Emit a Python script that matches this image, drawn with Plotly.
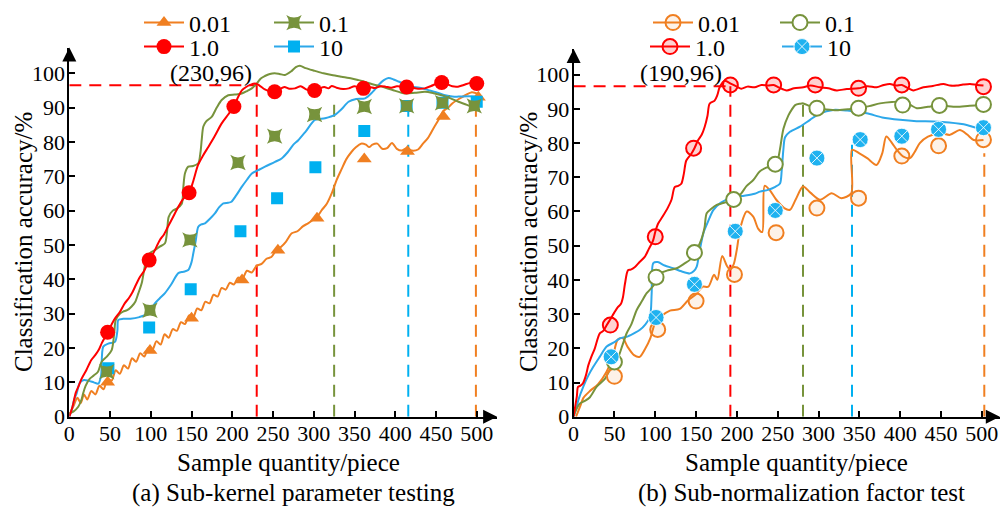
import plotly.graph_objects as go

# ---------------- colours ----------------
C_OR = "#F07F21"
C_RD = "#FF0000"
C_GR = "#77933C"
C_BLm = "#00B0F0"
C_BLl = "#2DA8EA"
FONT = "Liberation Serif"

# ---------------- (a) Sub-kernel parameter testing ----------------
# curves
a_or_x = [0, 5, 10, 14, 18, 22, 27, 32, 37, 42, 47, 52, 57, 62, 67, 72, 77, 82, 87, 92, 97, 102, 107, 112, 117, 122,
          127, 132, 137, 142, 147, 152, 157, 162, 167, 172, 177, 182, 187, 192, 197, 202, 207, 212, 218, 224, 230, 236,
          242, 248, 254, 260, 266, 273, 280, 287, 293, 300, 305, 310, 316, 322, 328, 334, 340, 346, 352, 358, 364, 368,
          372, 378, 384, 390, 396, 402, 408, 414, 420, 428, 434, 440, 447, 453, 459, 465, 470, 478, 486, 494, 502]
a_or_y = [0.5, 3, 5.5, 4, 6.5, 5, 7.5, 6.5, 9, 8, 11, 10.5, 13.5, 12.5, 15, 14, 17, 16, 18.5, 17.5, 20, 19.5, 22, 21,
          24, 23, 25.5, 25, 27.5, 27, 29.5, 29, 31.5, 31, 33.5, 33, 35.5, 35, 37.5, 37, 39, 38.5, 40.5, 40, 42.5, 42,
          44, 44.5, 46, 46.5, 48.5, 49.5, 51, 53.4, 54, 55.5, 56.3, 57.5, 58.5, 60.2, 62, 65, 68.9, 72, 75, 77, 78.5,
          79.5, 79.2, 78.5, 79.2, 79.5, 78, 78.2, 79.7, 78, 77.5, 78.2, 77.5, 77.8, 79.5, 81.1, 84, 86.4, 89, 90,
          91.2, 92.5, 93.6, 94.5, 94]

a_rd_x = [0, 4, 8, 11, 15, 21, 27, 32, 36, 40, 44, 50, 56, 62, 68, 73, 77, 82, 87, 92, 97, 104, 111, 116, 121, 127,
          134, 140, 147, 152, 158, 164, 171, 178, 187, 195, 202, 207, 212, 217, 222, 228, 233, 240, 246, 252, 258,
          264, 270, 277, 284, 290, 296, 301, 307, 313, 318, 322, 328, 336, 343, 350, 356, 361, 368, 375, 382, 388,
          395, 402, 408, 414, 420, 428, 436, 444, 451, 457, 464, 470, 477, 484, 492, 500]
a_rd_y = [0, 3, 7, 8.7, 11, 13.6, 16.5, 18, 19.4, 21.5, 23.3, 26, 28.6, 30.5, 33, 34.5, 36, 38.5, 40.8, 42.5, 45.1,
          48, 51.4, 53, 55.3, 58, 61.2, 63.5, 65.2, 68.5, 73.3, 76, 78.7, 81.5, 85.4, 88, 90.3, 93, 95.1, 96, 96.6,
          97, 96.5, 95.3, 94.8, 94.6, 95.4, 96, 95.5, 95.6, 96.2, 95.4, 94.9, 95, 95.6, 96, 95.6, 96.3, 95.8, 95.4,
          95.6, 96.2, 95.8, 95.6, 96, 95.7, 96.2, 96.1, 95.8, 96.2, 96.1, 96, 95.8, 95.5, 95.6, 96.3, 97, 97.3, 96.8,
          96.2, 96.1, 96.6, 97.2, 97]

a_gr_x = [0, 5, 11, 15, 17, 20, 25, 30, 35, 39.7, 46, 52, 55, 57, 62, 66, 71, 76.5, 81, 84.7, 89, 92.9, 97, 101, 105,
          111, 117.4, 120, 122, 127, 132, 138, 140, 142, 146, 152, 158.3, 161, 162.5, 164.5, 168, 174.7, 181, 187,
          195, 203, 211.6, 218, 224, 230, 235, 240, 246, 252, 258, 264.7, 272, 278, 283, 290, 301.5, 312, 322, 334,
          346.5, 355, 363, 372, 383.6, 396, 412, 424, 436.5, 447, 457, 468, 477.5, 488, 497]
a_gr_y = [1, 1.5, 2.9, 5, 6.8, 9, 11, 12, 13, 16, 17.5, 19.4, 24, 28.2, 30, 30.6, 31, 32.1, 33.5, 35.9, 39, 44, 47, 48,
          48.5, 49.5, 50.5, 54, 58.2, 60, 60.6, 62, 67, 70.9, 72.8, 73, 73.8, 77, 80.6, 84.5, 86, 87.3, 90, 92.2,
          93.6, 93.8, 94.1, 94.8, 95.6, 97, 98.5, 99.2, 99.8, 100, 99.8, 99.5, 100.5, 101.8, 102.2, 101.5, 100.7,
          100, 99.5, 99, 98.5, 98, 97.5, 96.8, 96.1, 95.2, 94.1, 94.3, 94.6, 94.2, 93.6, 92.7, 91.7, 90.8, 89.8]

a_bl_x = [0, 3, 6, 9, 13, 18, 23.3, 30, 35.6, 39, 41.7, 47.9, 56, 59, 60.2, 66, 75, 86, 97, 105, 111, 117.4, 125,
          133.8, 140, 146, 150, 152.2, 155, 158.3, 162, 166.5, 172, 178.7, 184, 189, 195, 199, 205, 211.6, 218, 224,
          232, 240.2, 252.4, 260.6, 268, 275, 281, 290, 301.5, 313.8, 326, 334, 342.7, 352, 363, 372, 379.5, 386,
          391.8, 398, 404, 412, 420.4, 430, 440.8, 450, 461.2, 470, 477.5, 490, 502]
a_bl_y = [0, 2, 5, 6.8, 9.9, 10.7, 10.5, 10, 9.6, 12, 20.4, 21.3, 21.8, 25, 28.2, 28.5, 28.5, 29, 30.1, 33, 34.5, 36,
          38.5, 41.8, 42.2, 42.7, 45, 47.6, 51, 55.3, 56, 56.3, 57.5, 59.2, 61, 62.1, 62.3, 62.6, 64.5, 66.9, 69,
          70.8, 71.8, 72.8, 74.2, 75.2, 77, 79.2, 80.5, 83, 86.4, 86.9, 87.9, 89.5, 91.7, 92.5, 92.7, 94.5, 96.6, 98,
          98.6, 98.2, 97.6, 96.8, 96.1, 95.8, 95.1, 94.5, 93.6, 93.2, 93.2, 93.3, 93.2]

# markers
a_or_mx = [47, 99, 150, 212, 256, 304, 362, 415, 459, 502]
a_or_my = [10, 19.3, 28.7, 39.8, 48.5, 57.8, 75, 77.2, 87.4, 93]
a_rd_mx = [47, 98, 147, 202, 252, 301, 361, 414, 457, 500]
a_rd_my = [24.6, 45.6, 65.2, 90.3, 94.6, 95, 95.6, 96, 97.3, 97]
a_gr_mx = [46, 99, 148, 207, 252, 301, 362, 414, 458, 497]
a_gr_my = [13.1, 31, 51.5, 74, 81.7, 88, 90.3, 90.5, 91.4, 90.5]
a_bl_mx = [48, 98, 149, 210, 255, 302, 362, 414, 458, 500]
a_bl_my = [14.1, 26, 37.1, 54, 63.6, 72.6, 83.2, 90.5, 91.4, 91.7]

a_vline_x = [230, 325, 416, 499]
a_vline_top = [96.5, 91.3, 91.3, 91.5]
a_hline_y = 96.5
a_label = "(230,96)"

# ---------------- (b) Sub-normalization factor test ----------------
b_or_x = [3, 8, 12, 20, 30, 40, 48, 54, 60, 66, 74, 81, 88, 94, 100, 108, 118, 130, 140, 150, 158, 165, 172, 176, 182,
          188, 192, 196, 200, 204, 212, 220, 226, 231, 234, 240, 248, 258, 265, 272, 281, 290, 302, 316, 328, 340, 341,
          350, 360, 371, 378, 383, 390, 396, 404, 412, 418, 424, 434, 449, 461, 473, 482, 490, 502]
b_or_y = [0, 3, 5.5, 7.5, 9.5, 13, 17.5, 22.5, 23, 20.5, 18, 17.5, 20, 23, 27.5, 29.5, 31, 31.5, 34, 35.8, 38, 38,
          41.5, 40, 47, 44, 43, 44.5, 49, 55, 60, 58.5, 55, 54, 67.5, 66.3, 63.5, 61, 60.5, 63.5, 67.3, 65.5, 63.4,
          65.3, 63.9, 65.3, 78, 77, 75.5, 73.6, 77, 81.9, 80, 78, 76, 75.6, 77.5, 80, 81.9, 82.9, 82.4, 83.8, 82.5,
          80.9, 80.9]

b_rd_x = [0, 1.3, 4, 5.4, 8, 11.5, 15, 18, 21.7, 26, 31.9, 36, 40.1, 45, 50, 54.4, 58, 60.5, 63, 66.6, 70, 74.8, 80,
          87.1, 92, 97.3, 100, 103.4, 109, 115.6, 120, 123.8, 128, 131.9, 135, 138, 144.2, 148, 152.4, 157, 160.5,
          164, 166.6, 172.7, 176, 178.9, 185, 193.1, 200, 205.4, 213, 221.8, 230, 238.1, 245, 252, 261, 270, 281.4,
          290, 301.9, 312, 322.3, 334.6, 348.8, 360, 371.2, 380, 387.5, 395, 402, 410, 416.1, 428.4, 440, 452.9, 461,
          469.2, 477, 485.5, 494, 502]
b_rd_y = [0, 2, 6, 8.7, 9, 9.8, 12, 15, 17.5, 20, 24.3, 25, 26.6, 28.5, 30.5, 32.1, 33, 35, 39, 42.8, 43, 43.7, 45,
          46.7, 49, 51.5, 54, 56.4, 58.5, 61.2, 63.5, 67.1, 67.5, 68.1, 71, 74.9, 76.9, 78.5, 80.8, 82.5, 84.7, 88,
          91.5, 92.4, 94, 96.3, 98.2, 97.3, 96.5, 95.9, 96.5, 96.3, 97, 96.8, 97, 96.2, 95.4, 96, 96.3, 96.8, 96.3,
          96, 95.4, 95.8, 96, 96.6, 96.3, 97, 97.3, 96.8, 97, 96, 95.4, 96.3, 96.7, 97.3, 96.8, 96.8, 97.1, 97.3, 97,
          96.8]

b_gr_x = [0, 3, 7.8, 13.6, 20, 28.3, 38.1, 44.6, 50.3, 55, 60, 65, 70.7, 77.3, 83, 89.5, 95, 99.7, 103, 105.8, 115.6,
          126.3, 136, 143, 148.3, 154.4, 158, 160.5, 163, 168.7, 175.3, 181, 188, 196, 205.4, 212, 220.1, 227.9, 236,
          246.7, 250, 252.9, 257, 263.1, 267, 271.3, 277.3, 281.4, 289, 297.8, 310, 322.3, 336, 348.8, 362, 375.3,
          390, 403, 412, 420.3, 434, 448, 458, 469.2, 485, 502]
b_gr_y = [0.3, 2, 3.9, 4.6, 5.7, 8.8, 11, 13.7, 15, 17.5, 21, 24.4, 27, 31.2, 33.5, 36.1, 37.5, 39, 41, 41.9, 42.8,
          43.4, 44.8, 46, 47.7, 50.6, 53, 55.5, 59.5, 60.8, 61.9, 62.3, 62.8, 63.2, 65.3, 67.5, 69.2, 71.7, 72.8,
          73.6, 75, 78.4, 84.2, 88.1, 89.7, 91.1, 91.5, 91.6, 90.8, 90.2, 89.8, 89.6, 89.9, 90.2, 90.8, 91.6, 92,
          92.1, 91.2, 90.2, 90.6, 91.1, 90.8, 90.6, 90.9, 91.1]

b_bl_x = [0, 2.2, 6, 11.9, 18, 24.1, 32, 40.5, 50, 56.8, 66.6, 75, 81.3, 88, 93.6, 95.6, 97.6, 103, 111.6, 122, 132,
          142.6, 147, 150.8, 154, 158.9, 164.6, 171.1, 180, 191.6, 205.4, 221.8, 228.3, 238.1, 247, 252.8, 254.9,
          256.9, 259, 265, 277.3, 289.6, 301.8, 318.1, 335, 359, 378, 399.8, 420, 440.6, 460, 481.5, 492, 501.8]
b_bl_y = [0, 1.5, 5, 8.8, 12, 14.6, 17.5, 20.5, 21.8, 22.9, 23.5, 24.5, 25.4, 27, 29.2, 36, 44.9, 45.2, 44.2, 43.4,
          42.5, 41.9, 42.5, 43.9, 48, 53.6, 57, 60.4, 62.5, 63.9, 64.5, 65.2, 65.8, 66.3, 67.2, 68.2, 72, 78, 81.7,
          83.3, 84.8, 86.8, 88.7, 89.7, 89.5, 88.7, 87.5, 86.8, 86.4, 86.3, 86, 85.3, 84.5, 83.8]

b_or_mx = [50, 103, 150, 197, 248, 298, 349, 402, 447, 502]
b_or_my = [11.8, 25.5, 33.8, 41.6, 53.8, 61, 63.9, 76.2, 79.2, 81]
b_rd_mx = [45, 100, 147, 192, 245, 296, 349, 402, 502]
b_rd_my = [26.8, 52.6, 78.5, 97, 97, 97, 96, 97, 96.5]
b_gr_mx = [50, 101, 148, 196, 247, 298, 349, 403, 448, 502]
b_gr_my = [16, 40.8, 48, 63.5, 73.8, 90.2, 90.2, 91.1, 91, 91.3]
b_bl_mx = [46, 101, 148, 198, 247, 298, 351, 402, 447, 502]
b_bl_my = [17.5, 29, 38.7, 54.2, 60.3, 75.6, 81, 82, 84, 84.5]

b_vline_x = [192, 281, 341, 503]
b_vline_top = [96.6, 91.2, 80.5, 77]
b_hline_y = 96.6
b_label = "(190,96)"

series_names = ["0.01", "0.1", "1.0", "10"]
x_ticks = [0, 50, 100, 150, 200, 250, 300, 350, 400, 450, 500]
y_ticks = [0, 10, 20, 30, 40, 50, 60, 70, 80, 90, 100]

fig = go.Figure()


def curve(x, y, color, xa, ya):
    fig.add_trace(go.Scatter(x=x, y=y, mode="lines", line=dict(color=color, width=2, shape="spline", smoothing=0.8),
                             xaxis=xa, yaxis=ya, showlegend=False, hoverinfo="skip"))


def marks(x, y, marker, xa, ya):
    fig.add_trace(go.Scatter(x=x, y=y, mode="markers", marker=marker, xaxis=xa, yaxis=ya, showlegend=False))


def dashed(x, y, color, xa, ya):
    fig.add_trace(go.Scatter(x=x, y=y, mode="lines", line=dict(color=color, width=2, dash="12px,8px"),
                             xaxis=xa, yaxis=ya, showlegend=False, hoverinfo="skip"))


def legend_item(name, color, marker, legend):
    fig.add_trace(go.Scatter(x=[None], y=[None], mode="lines+markers", name=name,
                             line=dict(color=color, width=2), marker=marker, legend=legend))


# ---- panel (a)
mk_a_or = dict(symbol="triangle-up", size=13, color=C_OR)
mk_a_rd = dict(symbol="circle", size=15, color=C_RD)
mk_a_gr = dict(symbol="star-square", size=14, color=C_GR)
mk_a_bl = dict(symbol="square", size=12, color=C_BLm)

vcols = [C_RD, C_GR, C_BLm, C_OR]
dashed([0, a_vline_x[0]], [a_hline_y, a_hline_y], C_RD, "x", "y")
for vx, vt, vc in zip(a_vline_x, a_vline_top, vcols):
    dashed([vx, vx], [0, vt], vc, "x", "y")

curve(a_or_x, a_or_y, C_OR, "x", "y")
curve(a_bl_x, a_bl_y, C_BLl, "x", "y")
curve(a_gr_x, a_gr_y, C_GR, "x", "y")
curve(a_rd_x, a_rd_y, C_RD, "x", "y")
marks(a_or_mx, a_or_my, mk_a_or, "x", "y")
marks(a_bl_mx, a_bl_my, mk_a_bl, "x", "y")
marks(a_gr_mx, a_gr_my, mk_a_gr, "x", "y")
marks(a_rd_mx, a_rd_my, mk_a_rd, "x", "y")

legend_item(series_names[0], C_OR, mk_a_or, "legend")
legend_item(series_names[1], C_GR, mk_a_gr, "legend2")
legend_item(series_names[2], C_RD, mk_a_rd, "legend3")
legend_item(series_names[3], C_BLl, mk_a_bl, "legend4")

# ---- panel (b)
mk_b_or = dict(symbol="circle", size=15, color="rgba(240,127,33,0.10)", line=dict(color=C_OR, width=2))
mk_b_rd = dict(symbol="circle", size=15, color="rgba(255,0,0,0.18)", line=dict(color=C_RD, width=2))
mk_b_gr = dict(symbol="circle", size=15, color="white", line=dict(color=C_GR, width=2))
mk_b_bl = dict(symbol="circle-x", size=16, color="#1FB2F0", line=dict(color="rgba(255,255,255,0.85)", width=1))

dashed([0, b_vline_x[0]], [b_hline_y, b_hline_y], C_RD, "x2", "y2")
for vx, vt, vc in zip(b_vline_x, b_vline_top, vcols):
    dashed([vx, vx], [0, vt], vc, "x2", "y2")

curve(b_or_x, b_or_y, C_OR, "x2", "y2")
curve(b_bl_x, b_bl_y, C_BLl, "x2", "y2")
curve(b_gr_x, b_gr_y, C_GR, "x2", "y2")
curve(b_rd_x, b_rd_y, C_RD, "x2", "y2")
marks(b_or_mx, b_or_my, mk_b_or, "x2", "y2")
marks(b_gr_mx, b_gr_my, mk_b_gr, "x2", "y2")
marks(b_bl_mx, b_bl_my, mk_b_bl, "x2", "y2")
marks(b_rd_mx, b_rd_my, mk_b_rd, "x2", "y2")

legend_item(series_names[0], C_OR, mk_b_or, "legend5")
legend_item(series_names[1], C_GR, mk_b_gr, "legend6")
legend_item(series_names[2], C_RD, mk_b_rd, "legend7")
legend_item(series_names[3], C_BLl, mk_b_bl, "legend8")

W, H = 1003, 507
tickfont = dict(family=FONT, size=22, color="black")
axis_common = dict(showgrid=False, zeroline=False, showline=True, linecolor="black", linewidth=2,
                   ticks="inside", ticklen=6, tickwidth=2, tickcolor="black", tickfont=tickfont, automargin=False)
xaxis_extra = dict(ticklabelstandoff=-4)
yaxis_extra = dict(ticklabelstandoff=-2)

leg_common = dict(orientation="h", font=dict(family=FONT, size=24, color="black"), bgcolor="rgba(0,0,0,0)",
                  xanchor="left", yanchor="middle", itemwidth=40)

# legend anchor positions (pixels): left edge x, row centre y
leg_pos = {"legend": (139, 23), "legend2": (269, 23), "legend3": (139, 47), "legend4": (269, 47),
           "legend5": (648, 23), "legend6": (775, 23), "legend7": (645, 47), "legend8": (777, 47)}
legends = {k: dict(x=v[0] / W, y=1 - v[1] / H, **leg_common) for k, v in leg_pos.items()}

fig.update_layout(
    width=W, height=H, autosize=False,
    margin=dict(l=0, r=0, t=0, b=0, autoexpand=False),
    paper_bgcolor="white", plot_bgcolor="white",
    xaxis=dict(domain=[69.3 / W, 497.1 / W], range=[0, 525], tickvals=x_ticks, anchor="y", **axis_common,
               **xaxis_extra),
    yaxis=dict(domain=[1 - 416.7 / H, 1 - 47.5 / H], range=[0, 107.5], tickvals=y_ticks, anchor="x", **axis_common,
               **yaxis_extra),
    xaxis2=dict(domain=[573.6 / W, 999.8 / W], range=[0, 522], tickvals=x_ticks, anchor="y2", **axis_common,
                **xaxis_extra),
    yaxis2=dict(domain=[1 - 416.7 / H, 1 - 49.0 / H], range=[0, 107.5], tickvals=y_ticks, anchor="x2",
                **axis_common, **yaxis_extra),
    showlegend=True,
    **legends,
)

ann = []
txt = dict(family=FONT, size=25, color="black")
lbl = dict(family=FONT, size=24, color="black")
# axis arrows
for xa, ya, xe, ye in [("x", "y", 525, 107.5), ("x2", "y2", 522, 107.5)]:
    ann.append(dict(x=xe, y=0, ax=xe - 12, ay=0, xref=xa, yref=ya, axref=xa, ayref=ya, text="", showarrow=True,
                    arrowhead=2, arrowsize=1.4, arrowwidth=2, arrowcolor="black"))
    ann.append(dict(x=0, y=ye, ax=0, ay=ye - 4, xref=xa, yref=ya, axref=xa, ayref=ya, text="", showarrow=True,
                    arrowhead=2, arrowsize=1.4, arrowwidth=2, arrowcolor="black"))


def ptext(cx, cy, s, font, angle=0):
    return dict(x=cx / W, y=1 - cy / H, xref="paper", yref="paper", text=s, showarrow=False, font=font,
                xanchor="center", yanchor="middle", textangle=angle)


ann.append(ptext(211, 73, a_label, lbl))
ann.append(ptext(681, 73, b_label, lbl))
for cx in [23, 528]:
    ann.append(ptext(cx, 242, "Classification accuracy/%", txt, -90))
for cx, cap in [(288, "(a) Sub-kernel parameter testing"), (796, "(b) Sub-normalization factor test")]:
    ann.append(ptext(cx, 462, "Sample quantity/piece", txt))
    ann.append(ptext(cx + 5, 493, cap, txt))
fig.update_layout(annotations=ann)

fig.write_html("out.html", config={"displayModeBar": False},
               post_script="document.body.style.margin='0px';document.body.style.overflow='hidden';")
